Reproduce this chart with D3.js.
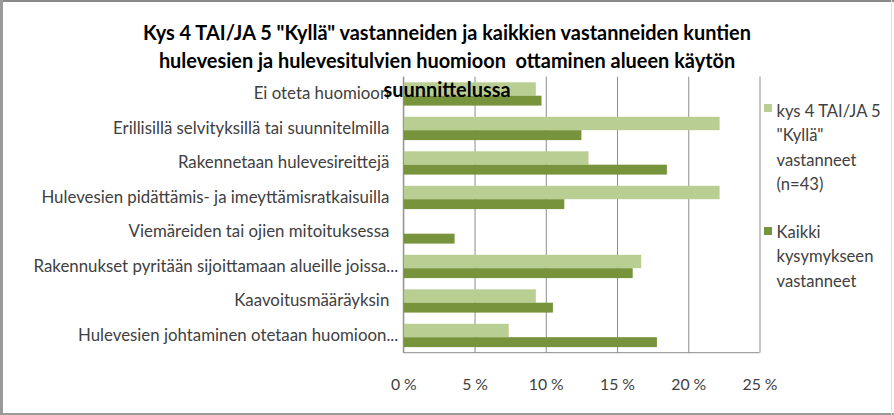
<!DOCTYPE html>
<html>
<head>
<meta charset="utf-8">
<script src="https://cdn.jsdelivr.net/npm/d3@7"></script>
<style>
  html, body { margin: 0; padding: 0; background: #fff; }
  svg { display: block; }
  text { font-family: Lato, "Open Sans", "DejaVu Sans", sans-serif; }
</style>
</head>
<body>
<svg id="chart" width="894" height="415"></svg>
<script>
// ---- data ----
const categories = [
  "Ei oteta huomioon",
  "Erillisillä selvityksillä tai suunnitelmilla",
  "Rakennetaan hulevesireittejä",
  "Hulevesien pidättämis- ja imeyttämisratkaisuilla",
  "Viemäreiden tai ojien mitoituksessa",
  "Rakennukset pyritään sijoittamaan alueille joissa...",
  "Kaavoitusmääräyksin",
  "Hulevesien johtaminen otetaan huomioon..."
];
const seriesNames = ["kys 4 TAI/JA 5 \"Kyllä\" vastanneet (n=43)", "Kaikki kysymykseen vastanneet"];
const kyllaValues  = [0.093, 0.222, 0.130, 0.222, 0.000, 0.167, 0.093, 0.074];
const kaikkiValues = [0.097, 0.125, 0.185, 0.113, 0.036, 0.161, 0.105, 0.178];
const xTicks = [0, 0.05, 0.10, 0.15, 0.20, 0.25];
const titleLines = [
  "Kys 4 TAI/JA 5 \"Kyllä\" vastanneiden ja kaikkien vastanneiden kuntien",
  "hulevesien ja hulevesitulvien huomioon  ottaminen alueen käytön",
  "suunnittelussa"
];
const legendLines = [
  ["kys 4 TAI/JA 5", "\"Kyllä\"", "vastanneet", "(n=43)"],
  ["Kaikki", "kysymykseen", "vastanneet"]
];
const colors = ["#b9ce92", "#77933c"];

// ---- layout ----
const W = 894, H = 415;
const plot = { left: 403.3, right: 759.5, top: 76.7, bottom: 352.7 };
const svg = d3.select("#chart");
svg.append("rect").attr("width", W).attr("height", H).attr("fill", "#fff");

// outer frame
svg.append("line").attr("x1", 0).attr("x2", W).attr("y1", 1).attr("y2", 1).attr("stroke", "#8a8a8a").attr("stroke-width", 2);
svg.append("line").attr("x1", 1.5).attr("x2", 1.5).attr("y1", 0).attr("y2", H).attr("stroke", "#9a9a9a").attr("stroke-width", 3);
svg.append("line").attr("x1", 0).attr("x2", W).attr("y1", 414).attr("y2", 414).attr("stroke", "#9a9a9a").attr("stroke-width", 2);
svg.append("line").attr("x1", 891.5).attr("x2", 891.5).attr("y1", 0).attr("y2", H).attr("stroke", "#e2e2e2").attr("stroke-width", 1);

const x = d3.scaleLinear().domain([0, 0.25]).range([plot.left, plot.right]);
const y = d3.scaleBand().domain(categories).range([plot.top, plot.bottom]).paddingInner(0.325).paddingOuter(0.1625);
const split = d3.scaleLinear().domain([0, 1]).range([0, y.bandwidth()]);
const seriesPos = [[0, 0.575], [0.575, 1]];

// gridlines
const grid = svg.append("g").attr("transform", `translate(0,${plot.bottom})`)
  .call(d3.axisBottom(x).tickValues(xTicks).tickSize(-(plot.bottom - plot.top)).tickFormat(""));
grid.select(".domain").remove();
grid.selectAll(".tick line").attr("stroke", "#8c8c8c").attr("stroke-width", 1);

// bars
const seriesData = [kyllaValues, kaikkiValues];
seriesData.forEach((vals, si) => {
  svg.append("g").selectAll("rect").data(vals).join("rect")
    .attr("x", x(0))
    .attr("y", (d, i) => y(categories[i]) + split(seriesPos[si][0]))
    .attr("width", d => x(d) - x(0))
    .attr("height", split(seriesPos[si][1]) - split(seriesPos[si][0]))
    .attr("fill", colors[si]);
});

// axis lines (left + bottom)
svg.append("line").attr("x1", plot.left).attr("x2", plot.left).attr("y1", plot.top).attr("y2", plot.bottom).attr("stroke", "#8c8c8c");
svg.append("line").attr("x1", plot.left).attr("x2", plot.right).attr("y1", plot.bottom).attr("y2", plot.bottom).attr("stroke", "#8c8c8c");

// helper to fit font-size to a target width
function fitSize(text, weight, targetW) {
  const t = svg.append("text").attr("font-size", 20).attr("font-weight", weight).text(text);
  const w = t.node().getComputedTextLength();
  t.remove();
  return 20 * targetW / w;
}

// x-axis tick labels
const tickSize = fitSize("25 %", "normal", 35);
const xAxis = svg.append("g").attr("transform", `translate(0,${plot.bottom})`)
  .call(d3.axisBottom(x).tickValues(xTicks).tickSize(0).tickPadding(26)
    .tickFormat(d => Math.round(d * 100) + " %"));
xAxis.select(".domain").remove();
xAxis.selectAll("text").attr("font-size", tickSize).attr("fill", "#404040")
  .attr("font-family", "Lato, 'Open Sans', sans-serif");

// category labels
const labelSize = fitSize(categories[3], "normal", 348);
const yAxis = svg.append("g").attr("transform", `translate(${plot.left},0)`)
  .call(d3.axisLeft(y).tickSize(0).tickPadding(14));
yAxis.select(".domain").remove();
yAxis.selectAll("text").attr("font-size", labelSize).attr("fill", "#404040")
  .attr("font-family", "Lato, 'Open Sans', sans-serif")
  .attr("dx", d => d.endsWith("...") ? 9 : 0);

// legend
const legSize = fitSize("kysymykseen", "normal", 97);
const legStarts = [111, 232];
const legSquares = [104, 227];
legendLines.forEach((lines, li) => {
  svg.append("rect").attr("x", 764).attr("y", legSquares[li]).attr("width", 8).attr("height", 8).attr("fill", colors[li]);
  const t = svg.append("text").attr("x", 776.5).attr("font-size", legSize).attr("fill", "#404040");
  lines.forEach((ln, k) => {
    t.append("tspan").attr("x", 776.5).attr("y", legStarts[li] + k * 24.5).attr("dy", "0.35em").text(ln);
  });
});

// title (drawn last; third line overlaps the plot like in the original)
const titleSize = fitSize(titleLines[0], "bold", 608);
const titleBase = [39.5, 68.2, 97];
titleLines.forEach((ln, i) => {
  svg.append("text").attr("x", 447).attr("y", titleBase[i])
    .attr("text-anchor", "middle").attr("font-weight", "bold")
    .attr("font-size", titleSize).attr("fill", "#000")
    .style("white-space", "pre").text(ln);
});
</script>
</body>
</html>
